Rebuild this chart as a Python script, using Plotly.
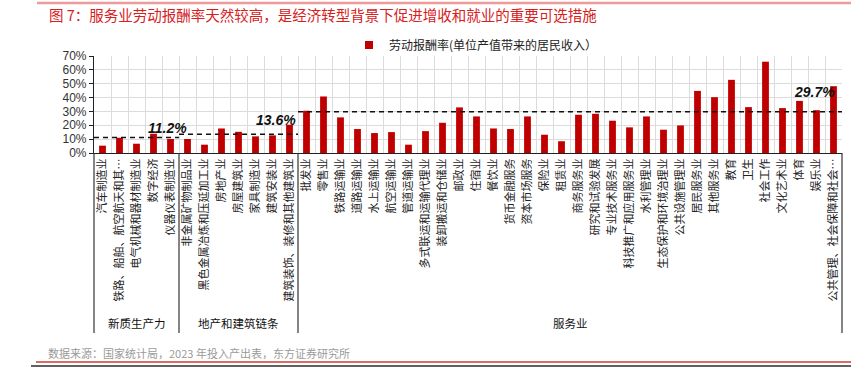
import plotly.graph_objects as go

# ---------------- data ----------------
groups = ["新质生产力", "地产和建筑链条", "服务业"]
cats_new = ["汽车制造业", "铁路、船舶、航空航天和其…", "电气机械和器材制造业", "数字经济", "仪器仪表制造业"]
vals_new = [5.3, 11.0, 6.7, 13.9, 10.1]
cats_prop = ["非金属矿物制品业", "黑色金属冶炼和压延加工业", "房地产业", "房屋建筑业", "家具制造业",
             "建筑安装业", "建筑装饰、装修和其他建筑业"]
vals_prop = [10.1, 6.0, 17.7, 15.3, 12.0, 12.7, 20.4]
cats_serv = ["批发业", "零售业", "铁路运输业", "道路运输业", "水上运输业", "航空运输业", "管道运输业",
             "多式联运和运输代理业", "装卸搬运和仓储业", "邮政业", "住宿业", "餐饮业", "货币金融服务",
             "资本市场服务", "保险业", "租赁业", "商务服务业", "研究和试验发展", "专业技术服务业",
             "科技推广和应用服务业", "水利管理业", "生态保护和环境治理业", "公共设施管理业", "居民服务业",
             "其他服务业", "教育", "卫生", "社会工作", "文化艺术业", "体育", "娱乐业",
             "公共管理、社会保障和社会…"]
vals_serv = [30.5, 40.8, 25.7, 17.3, 14.4, 15.1, 6.0, 15.8, 21.8, 32.9, 26.4, 17.7, 17.3, 26.4, 13.2,
             8.5, 27.6, 28.3, 23.3, 18.5, 26.4, 16.8, 19.9, 44.8, 40.3, 52.8, 33.1, 65.9, 32.4, 37.6,
             30.9, 48.2]
group_avgs = [11.2, 13.6, 29.7]
avg_label_x = [3.8, 10.2, 41.9]     # category index where the average label sits
avg_label_y = [18.0, 23.7, 44.0]
yticks = [0, 10, 20, 30, 40, 50, 60, 70]

series_name = "劳动报酬率(单位产值带来的居民收入）"
title_text = "图 7：服务业劳动报酬率天然较高，是经济转型背景下促进增收和就业的重要可选措施"
source_text = "数据来源：国家统计局，2023 年投入产出表，东方证券研究所"

cat_lists = [cats_new, cats_prop, cats_serv]
categories = cats_new + cats_prop + cats_serv
values = [v / 100 for v in vals_new + vals_prop + vals_serv]
N = len(categories)

# ---------------- layout geometry ----------------
W, H = 851, 371
L, R, T, B = 94, 9, 56, 218
PW, PH = W - L - R, H - T - B

def px2x(px):
    return (px - L) / PW

def py2y(py):
    return (T + PH - py) / PH

CJK = "Noto Sans CJK SC"
RED = "#c00000"

fig = go.Figure()
fig.add_trace(go.Bar(
    x=categories, y=values, marker=dict(color=RED, line=dict(width=0)),
    name=series_name, showlegend=False,
))
# legend-only marker trace (small square symbol like the reference)
fig.add_trace(go.Scatter(
    x=[None], y=[None], mode="markers", name=series_name,
    marker=dict(symbol="square", size=8, color=RED),
))

shapes = []
annotations = []

# group boundaries (category index)
bounds = [-0.5]
for cl in cat_lists:
    bounds.append(bounds[-1] + len(cl))

for i, g in enumerate(groups):
    x0, x1 = bounds[i], bounds[i + 1]
    shapes.append(dict(type="line", xref="x", yref="y", x0=x0, x1=x1,
                       y0=group_avgs[i] / 100, y1=group_avgs[i] / 100,
                       line=dict(color="#111111", width=1.5, dash="5px,4px"), layer="above"))
    annotations.append(dict(xref="x", yref="y", x=avg_label_x[i], y=avg_label_y[i] / 100,
                            text=f"<b><i>{group_avgs[i]:.1f}%</i></b>", showarrow=False,
                            font=dict(family="Liberation Sans, Arial", size=14, color="#111111")))
    annotations.append(dict(xref="paper", yref="paper", x=((x0 + x1) / 2 + 0.5) / N, y=py2y(323),
                            text=g, showarrow=False, xanchor="center", yanchor="middle",
                            font=dict(family=CJK, size=11.5, color="#111111")))

# group separators (vertical lines below the axis)
for b in bounds:
    shapes.append(dict(type="line", xref="paper", yref="paper", x0=(b + 0.5) / N, x1=(b + 0.5) / N,
                       y0=0, y1=py2y(333), line=dict(color="#333333", width=1.2)))

# decorative rules
shapes.append(dict(type="line", xref="paper", yref="paper", x0=px2x(37), x1=px2x(851),
                   y0=py2y(3), y1=py2y(3), line=dict(color="#ee9a9a", width=2.5)))
shapes.append(dict(type="line", xref="paper", yref="paper", x0=px2x(36), x1=px2x(851),
                   y0=py2y(362), y1=py2y(362), line=dict(color="#d03a30", width=1.5)))
shapes.append(dict(type="line", xref="paper", yref="paper", x0=px2x(31), x1=px2x(851),
                   y0=py2y(366), y1=py2y(366), line=dict(color="#606060", width=2)))

# title & source
annotations.append(dict(xref="paper", yref="paper", x=px2x(47), y=py2y(15), xanchor="left",
                        yanchor="middle", text=title_text, showarrow=False,
                        font=dict(family=CJK, size=14.5, color="#d8201c")))
annotations.append(dict(xref="paper", yref="paper", x=px2x(46), y=py2y(353), xanchor="left",
                        yanchor="middle", text=source_text, showarrow=False,
                        font=dict(family=CJK, size=11, color="#9a9a9a")))

fig.update_layout(
    width=W, height=H,
    margin=dict(l=L, r=R, t=T, b=B, autoexpand=False),
    paper_bgcolor="white", plot_bgcolor="white",
    bargap=0.6,
    showlegend=True,
    legend=dict(x=px2x(349), y=py2y(45), xanchor="left", yanchor="middle",
                bgcolor="rgba(0,0,0,0)", font=dict(family=CJK, size=12, color="#222222"),
                itemwidth=30, tracegroupgap=0),
    shapes=shapes, annotations=annotations,
    font=dict(family=CJK),
)
fig.update_xaxes(
    type="category", tickson="boundaries", showgrid=True, gridcolor="#dcdcdc", gridwidth=1,
    showline=True, linecolor="#222222", linewidth=1.2, ticks="", tickangle=-90,
    tickfont=dict(family=CJK, size=11, color="#222222"), automargin=False,
    range=[-0.5, N - 0.5],
)
fig.update_yaxes(
    range=[0, 0.7], tickvals=[t / 100 for t in yticks], tickformat=".0%",
    showgrid=True, gridcolor="#dcdcdc", gridwidth=1, zeroline=False,
    showline=True, linecolor="#222222", linewidth=1.2, ticks="outside", ticklen=4,
    tickcolor="#222222", tickfont=dict(family="Liberation Sans, Arial", size=12, color="#333333"),
    automargin=False,
)
fig.write_html(
    "out.html",
    config={"displayModeBar": False},
    post_script="document.body.style.margin='0';document.body.style.overflow='hidden';",
)
